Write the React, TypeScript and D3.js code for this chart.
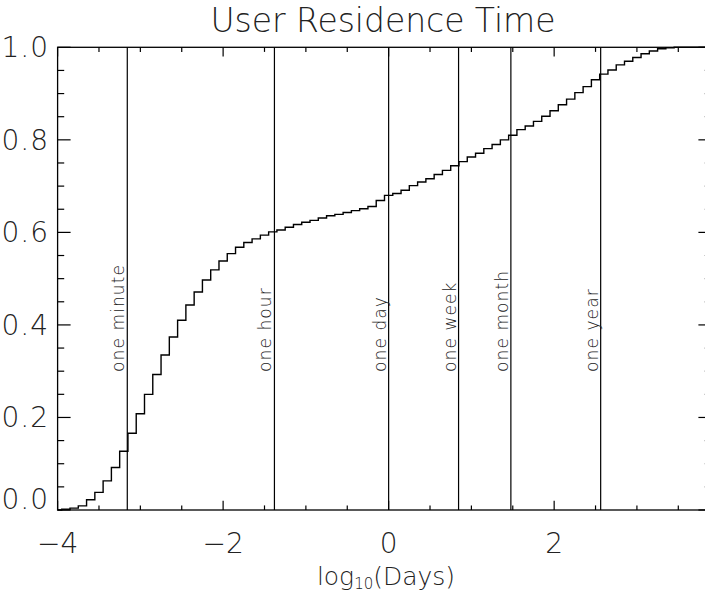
import * as d3 from 'd3';

// bin centres in log10(days) and the cumulative fraction at each
const binCenters = [
  -4.0, -3.9, -3.8, -3.7, -3.6, -3.5, -3.4, -3.3, -3.2, -3.1,
  -3.0, -2.9, -2.8, -2.7, -2.6, -2.5, -2.4, -2.3, -2.2, -2.1,
  -2.0, -1.9, -1.8, -1.7, -1.6, -1.5, -1.4, -1.3, -1.2, -1.1,
  -1.0, -0.9, -0.8, -0.7, -0.6, -0.5, -0.4, -0.3, -0.2, -0.1,
  0.0, 0.1, 0.2, 0.3, 0.4, 0.5, 0.6, 0.7, 0.8, 0.9,
  1.0, 1.1, 1.2, 1.3, 1.4, 1.5, 1.6, 1.7, 1.8, 1.9,
  2.0, 2.1, 2.2, 2.3, 2.4, 2.5, 2.6, 2.7, 2.8, 2.9,
  3.0, 3.1, 3.2, 3.3, 3.4, 3.5, 3.6, 3.7, 3.8, 3.9,
];

const cumFraction = [
  0.000, 0.0015, 0.004, 0.009, 0.022, 0.038, 0.063, 0.092, 0.127, 0.166,
  0.208, 0.250, 0.293, 0.335, 0.374, 0.410, 0.443, 0.471, 0.497, 0.519,
  0.538, 0.554, 0.568, 0.578, 0.586, 0.594, 0.601, 0.605, 0.611, 0.617,
  0.622, 0.626, 0.631, 0.636, 0.639, 0.643, 0.647, 0.651, 0.656, 0.669,
  0.680, 0.684, 0.691, 0.701, 0.709, 0.716, 0.725, 0.734, 0.744, 0.753,
  0.763, 0.771, 0.781, 0.790, 0.800, 0.810, 0.822, 0.830, 0.840, 0.851,
  0.863, 0.876, 0.888, 0.902, 0.915, 0.930, 0.942, 0.951, 0.962, 0.970,
  0.978, 0.986, 0.992, 0.997, 0.999, 1.000, 1.000, 1.000, 1.000, 1.000,
];

// reference durations, log10 of days
const markerLabels = ['one minute', 'one hour', 'one day', 'one week', 'one month', 'one year'];
const markerPositions = [-3.158, -1.380, 0.0, 0.845, 1.477, 2.562];

const xMajorTicks = [-4, -2, 0, 2];
const xTickLabels = ['\u22124', '\u22122', '0', '2'];
const xMinorTicks = [-3.5, -3, -2.5, -1.5, -1, -0.5, 0.5, 1, 1.5, 2.5, 3, 3.5];
const yMajorTicks = [0, 0.2, 0.4, 0.6, 0.8, 1.0];
const yTickLabels = ['0.0', '0.2', '0.4', '0.6', '0.8', '1.0'];
const yMinorTicks = [0.05, 0.1, 0.15, 0.25, 0.3, 0.35, 0.45, 0.5, 0.55, 0.65, 0.7, 0.75, 0.85, 0.9, 0.95];

const W = 705;
const H = 594;
const FONT = '"DejaVu Sans", sans-serif';
const INK = '#000';
const TEXT = '#222';

const App = () => {
  const x = d3.scaleLinear().domain([-4, 3.9]).range([57.6, 711.4]);
  const y = d3.scaleLinear().domain([0, 1]).range([510, 47.3]);

  const [x0, x1] = x.range();
  const [yb, yt] = y.range();

  const points = binCenters.map((c, i) => [c, cumFraction[i]] as [number, number]);
  const line = d3.line<[number, number]>()
    .x(d => x(d[0]))
    .y(d => y(d[1]))
    .curve(d3.curveStep);

  const yMajLen = 13;
  const yMinLen = 6.6;
  const xMajLen = 9.3;
  const xMinLen = 4.6;

  return (
    <svg width={W} height={H} style={{ position: 'absolute', left: 0, top: 0, background: '#fff' }}
      fontFamily={FONT}>
      <rect x={0} y={0} width={W} height={H} fill="#fff" />

      <text x={383} y={32} textAnchor="middle" fontSize={33} fontWeight={200} fill={TEXT}
        textLength={345} lengthAdjust="spacing">User Residence Time</text>

      {/* event markers */}
      {markerPositions.map((m, i) => (
        <g key={markerLabels[i]}>
          <line x1={x(m)} x2={x(m)} y1={yb} y2={yt} stroke={INK} strokeWidth={1.2} />
          <text transform={`translate(${x(m) - 3},372) rotate(-90)`} fontSize={17} fontWeight={200}
            letterSpacing={1.1} fill={TEXT}>{markerLabels[i]}</text>
        </g>
      ))}

      <path d={line(points) ?? ''} fill="none" stroke={INK} strokeWidth={1.4} />

      {/* frame */}
      <rect x={x0} y={yt} width={x1 - x0} height={yb - yt} fill="none" stroke={INK} strokeWidth={1.3} />

      {/* y ticks, both sides */}
      {yMajorTicks.map(t => (
        <g key={'ym' + t}>
          <line x1={x0} x2={x0 + yMajLen} y1={y(t)} y2={y(t)} stroke={INK} strokeWidth={1.2} />
          <line x1={x1} x2={x1 - yMajLen} y1={y(t)} y2={y(t)} stroke={INK} strokeWidth={1.2} />
        </g>
      ))}
      {yMinorTicks.map(t => (
        <g key={'yn' + t}>
          <line x1={x0} x2={x0 + yMinLen} y1={y(t)} y2={y(t)} stroke={INK} strokeWidth={1.2} />
          <line x1={x1} x2={x1 - yMinLen} y1={y(t)} y2={y(t)} stroke={INK} strokeWidth={1.2} />
        </g>
      ))}

      {/* x ticks, top and bottom */}
      {xMajorTicks.map(t => (
        <g key={'xm' + t}>
          <line x1={x(t)} x2={x(t)} y1={yb} y2={yb - xMajLen} stroke={INK} strokeWidth={1.2} />
          <line x1={x(t)} x2={x(t)} y1={yt} y2={yt + xMajLen} stroke={INK} strokeWidth={1.2} />
        </g>
      ))}
      {xMinorTicks.map(t => (
        <g key={'xn' + t}>
          <line x1={x(t)} x2={x(t)} y1={yb} y2={yb - xMinLen} stroke={INK} strokeWidth={1.2} />
          <line x1={x(t)} x2={x(t)} y1={yt} y2={yt + xMinLen} stroke={INK} strokeWidth={1.2} />
        </g>
      ))}

      {/* tick labels */}
      {yMajorTicks.map((t, i) => (
        <text key={'yl' + t} x={49} y={t === 0 ? yb - 1 : y(t) + 10} textAnchor="end" fontSize={28}
          fontWeight={200} letterSpacing={1} fill={TEXT}>{yTickLabels[i]}</text>
      ))}
      {xMajorTicks.map((t, i) => (
        <text key={'xl' + t} x={x(t)} y={553} textAnchor="middle" fontSize={28} fontWeight={200}
          fill={TEXT}>{xTickLabels[i]}</text>
      ))}

      <text x={386} y={585} textAnchor="middle" fontSize={25} fontWeight={200} fill={TEXT}>
        log<tspan fontSize={15} dy={4}>10</tspan><tspan dy={-4}>(Days)</tspan>
      </text>
    </svg>
  );
};

export default App;
